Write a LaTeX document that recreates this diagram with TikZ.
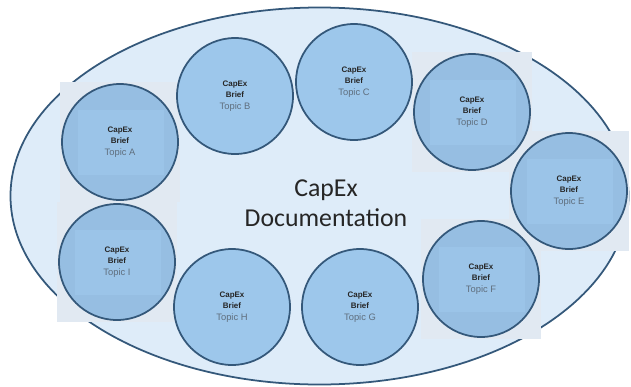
\documentclass[tikz,border=0pt]{standalone}
\usepackage{fontspec}
\setmainfont{Liberation Sans}
\newfontfamily\docfont{Carlito}
\usepackage{tikz}
\usetikzlibrary{positioning}
\usepackage{xcolor}
\definecolor{docfill}{RGB}{222,236,249}
\definecolor{briefc}{RGB}{157,199,235}
\definecolor{briefd}{RGB}{150,190,226}
\definecolor{patchc}{RGB}{225,233,242}
\definecolor{rimc}{RGB}{52,88,122}
\definecolor{topicc}{RGB}{95,110,125}
\tikzset{
  brief/.style={circle,draw=rimc,line width=1.5pt,fill=briefc,minimum size=3.48cm,inner sep=0pt},
  % the pasted briefs carry a darker rim and a square patch behind them
  briefp/.style={brief,fill=briefd},
  patch/.style={fill=patchc},
  core/.style={fill=briefc!70!briefd},
  blabel/.style={align=center,font=\fontsize{6.8}{10}\selectfont,text=black!85},
}
\newcommand{\brieftext}[1]{\textbf{CapEx}\\\textbf{Brief}\\{\fontsize{8}{10}\selectfont\color{topicc}Topic #1}}

\begin{document}
\begin{tikzpicture}[x=0.03cm,y=-0.03cm]
  \useasboundingbox (0,0) rectangle (631,387);
  % ---- the documentation set ----
  \draw[line width=1.5pt,draw=rimc,fill=docfill] (319.5,196) ellipse (309 and 188.5);
  % ---- patches behind the pasted briefs ----
  \fill[patch] (60,82) rectangle (180,202);
  \fill[patch] (412,52) rectangle (532,172);
  \fill[patch] (509,131) rectangle (629,251);
  \fill[patch] (421,219) rectangle (541,339);
  \fill[patch] (57,202) rectangle (177,322);
  % ---- the briefs, clockwise from A ----
  \node[briefp] (tA) at (120,142) {};
  \node[brief]  (tB) at (235,96)  {};
  \node[brief]  (tC) at (354,82)  {};
  \node[briefp] (tD) at (472,112) {};
  \node[briefp] (tE) at (569,191) {};
  \node[briefp] (tF) at (481,279) {};
  \node[brief]  (tG) at (360,307) {};
  \node[brief]  (tH) at (232,307) {};
  \node[briefp] (tI) at (117,262) {};
  % lighter square inside the pasted ones
  \foreach \t in {tA,tD,tE,tF,tI}{
    \fill[core] ([shift={(-42,-32)}]\t.center) rectangle ([shift={(44,33)}]\t.center);
  }
  % labels on top
  \node[blabel] (lA) at (tA.center) {\brieftext{A}};
  \node[blabel] (lB) at (tB.center) {\brieftext{B}};
  \node[blabel] (lC) at (tC.center) {\brieftext{C}};
  \node[blabel] (lD) at (tD.center) {\brieftext{D}};
  \node[blabel] (lE) at (tE.center) {\brieftext{E}};
  \node[blabel] (lF) at (tF.center) {\brieftext{F}};
  \node[blabel] (lG) at (tG.center) {\brieftext{G}};
  \node[blabel] (lH) at (tH.center) {\brieftext{H}};
  \node[blabel] (lI) at (tI.center) {\brieftext{I}};
  % ---- title in the middle ----
  \node[align=center,font=\docfont\fontsize{22}{25.5}\selectfont,text=black!85] (title) at (326,203)
    {CapEx\\Documentation};
\end{tikzpicture}
\end{document}
